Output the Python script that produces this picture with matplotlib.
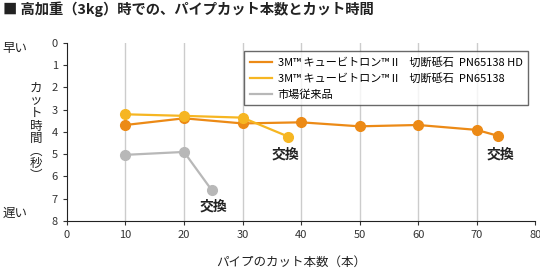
import matplotlib
matplotlib.use('Agg')
import matplotlib.pyplot as plt

plt.rcParams['font.family'] = ['Noto Sans CJK JP', 'DejaVu Sans']

# data
hd_x = [10, 20, 30, 40, 50, 60, 70, 73.7]
hd_y = [3.69, 3.39, 3.62, 3.57, 3.75, 3.69, 3.91, 4.18]
std_x = [10, 20, 30, 37.8]
std_y = [3.21, 3.28, 3.36, 4.21]
old_x = [10, 20, 24.7]
old_y = [5.03, 4.90, 6.60]
labels = ['3M™ キュービトロン™ II　切断砥石  PN65138 HD',
          '3M™ キュービトロン™ II　切断砥石  PN65138',
          '市場従来品']
colors = ['#EC8A16', '#F6B622', '#B8B8B8']
swap_pos = [(37.4, 5.03), (74.0, 5.03), (25.1, 7.36)]

fig = plt.figure(figsize=(5.4, 2.7), dpi=100)
ax = fig.add_axes([0.124, 0.1815, 0.867, 0.66])

for xs, ys, c, lab in zip([hd_x, std_x, old_x], [hd_y, std_y, old_y], colors, labels):
    ax.plot(xs, ys, color=c, lw=1.6, marker='o', ms=7, label=lab, zorder=3)

for x, y in swap_pos:
    ax.text(x, y, '交換', ha='center', va='center', fontsize=10, fontweight='bold', color='#222222')

ax.set_xlim(0, 80)
ax.set_ylim(8, 0)
ax.set_xticks(range(0, 81, 10))
ax.set_yticks(range(0, 9))
ax.tick_params(labelsize=8, length=3, color='#333333', labelcolor='#333333')
for x in range(10, 80, 10):
    ax.axvline(x, color='#CCCCCC', lw=1, zorder=1)
ax.spines['top'].set_visible(False)
ax.spines['right'].set_visible(False)
ax.spines['left'].set_color('#222222')
ax.spines['bottom'].set_color('#222222')

leg = ax.legend(loc='upper right', bbox_to_anchor=(0.997, 0.985), fontsize=8.0, frameon=True,
                fancybox=False, edgecolor='#444444', handlelength=2.0, borderpad=0.5,
                labelspacing=0.5, handletextpad=0.5, markerscale=0)
leg.get_frame().set_linewidth(1.0)
for h in leg.get_lines():
    h.set_marker('')

fig.text(0.005, 0.965, '■ 高加重（3kg）時での、パイプカット本数とカット時間', fontsize=10.3,
         fontweight='bold', va='center', ha='left', color='#222222')
fig.text(0.005, 0.82, '早い', fontsize=9, va='center', color='#222222')
fig.text(0.005, 0.21, '遅い', fontsize=9, va='center', color='#222222')
fig.text(0.067, 0.51, '\n'.join('カット時間︵秒︶'), fontsize=9, va='center', ha='center',
         linespacing=0.95, color='#222222')
fig.text(0.54, 0.03, 'パイプのカット本数（本）', fontsize=9, va='center', ha='center', color='#222222')

fig.savefig('out.png', dpi=100)
